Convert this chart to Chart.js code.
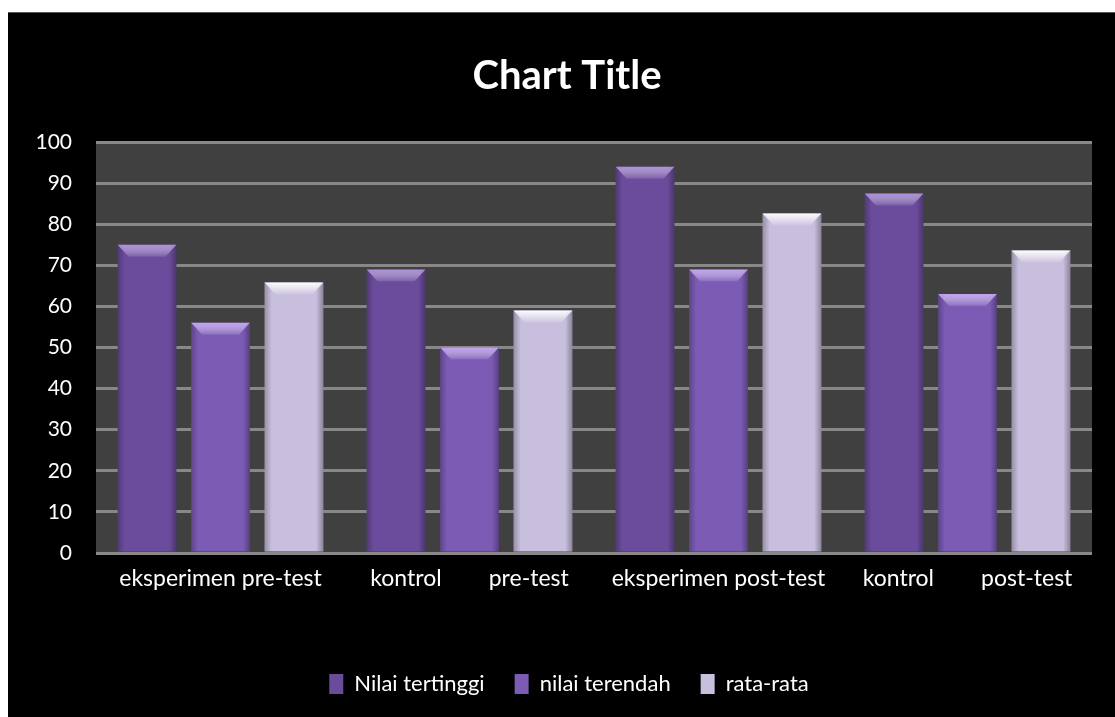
<!DOCTYPE html>
<html>
<head>
<meta charset="utf-8">
<script src="https://cdn.jsdelivr.net/npm/chart.js@4.4.1/dist/chart.umd.min.js"></script>
<style>
  html, body { margin: 0; padding: 0; background: #fff; }
  #box { position: absolute; left: 8px; top: 12px; width: 1107px; height: 705px; background: #000; border-top: 1px solid #555; box-sizing: border-box; }
  canvas { display: block; }
</style>
</head>
<body>
<div id="box"><canvas id="chart" width="1107" height="704"></canvas></div>
<script>
// Data
const categories = ['eksperimen pre-test', 'kontrol        pre-test', 'eksperimen post-test', 'kontrol        post-test'];
const nilaiTertinggi = [75, 69, 94, 87.5];
const nilaiTerendah = [56, 50, 69, 63];
const rataRata = [65.8, 59, 82.6, 73.6];
const yTicks = [0, 10, 20, 30, 40, 50, 60, 70, 80, 90, 100];

const FONT = 'Lato, "Open Sans", sans-serif';

// dark plot area behind the bars
const plotBg = {
  id: 'plotBg',
  beforeDraw(chart) {
    const a = chart.chartArea, ctx = chart.ctx;
    ctx.save();
    ctx.fillStyle = '#404040';
    ctx.fillRect(a.left, a.top, a.right - a.left, a.bottom - a.top);
    ctx.restore();
  }
};

// title and legend sit a bit right of the canvas centre in the original
const nudge = {
  id: 'nudge',
  afterLayout(chart) {
    chart.titleBlock.left += 17;
    chart.titleBlock.right += 17;
    chart.legend.left += 19;
    chart.legend.right += 19;
  }
};

// bevel look on top of each bar (light cap + darker side edges)
const bevel = {
  id: 'bevel',
  afterDatasetsDraw(chart) {
    const ctx = chart.ctx;
    chart.data.datasets.forEach((ds, i) => {
      chart.getDatasetMeta(i).data.forEach(bar => {
        const l = bar.x - bar.width / 2, r = bar.x + bar.width / 2, t = bar.y, b = bar.base;
        ctx.save();
        // side shading
        const g = ctx.createLinearGradient(l, 0, r, 0);
        g.addColorStop(0, 'rgba(0,0,0,0.25)');
        g.addColorStop(0.12, 'rgba(0,0,0,0)');
        g.addColorStop(0.88, 'rgba(0,0,0,0)');
        g.addColorStop(1, 'rgba(0,0,0,0.3)');
        ctx.fillStyle = g;
        ctx.fillRect(l, t, r - l, b - t);
        // top cap
        const cg = ctx.createLinearGradient(0, t, 0, t + 12);
        cg.addColorStop(0, ds.capColor);
        cg.addColorStop(1, 'rgba(255,255,255,0.1)');
        ctx.fillStyle = cg;
        ctx.beginPath();
        ctx.moveTo(l, t);
        ctx.lineTo(r, t);
        ctx.lineTo(r - 11, t + 12);
        ctx.lineTo(l + 11, t + 12);
        ctx.closePath();
        ctx.fill();
        ctx.restore();
      });
    });
  }
};

new Chart(document.getElementById('chart'), {
  type: 'bar',
  data: {
    labels: categories,
    datasets: [
      { label: 'Nilai tertinggi', data: nilaiTertinggi, backgroundColor: '#6b4c9c', capColor: 'rgba(190,160,235,0.8)' },
      { label: 'nilai terendah', data: nilaiTerendah, backgroundColor: '#7c5bb5', capColor: 'rgba(205,175,250,0.85)' },
      { label: 'rata-rata', data: rataRata, backgroundColor: '#c8bedd', capColor: 'rgba(255,255,255,0.95)' }
    ]
  },
  options: {
    responsive: false,
    animation: false,
    categoryPercentage: 0.885,
    barPercentage: 0.8,
    layout: { padding: { left: 0, right: 23, top: 0, bottom: 12 } },
    plugins: {
      title: {
        display: true,
        text: 'Chart Title',
        color: '#fff',
        font: { family: FONT, size: 40, weight: 'bold' },
        padding: { top: 39, bottom: 42 }
      },
      legend: {
        position: 'bottom',
        labels: {
          color: '#fff',
          font: { family: FONT, size: 22 },
          boxWidth: 14,
          boxHeight: 20,
          padding: 30
        }
      },
      tooltip: { enabled: false }
    },
    scales: {
      x: {
        grid: { display: false },
        border: { display: false },
        ticks: { color: '#fff', font: { family: FONT, size: 23 }, padding: 4, maxRotation: 0, autoSkip: false },
        afterFit(s) { s.height = 90; }
      },
      y: {
        min: 0,
        max: 100,
        afterBuildTicks(s) { s.ticks = yTicks.map(v => ({ value: v })); },
        grid: { color: '#888', lineWidth: 3, drawTicks: false },
        border: { display: false },
        ticks: { color: '#fff', font: { family: FONT, size: 21 }, padding: 24 },
        afterFit(s) { s.width = 88; }
      }
    }
  },
  plugins: [plotBg, nudge, bevel]
});
</script>
</body>
</html>
